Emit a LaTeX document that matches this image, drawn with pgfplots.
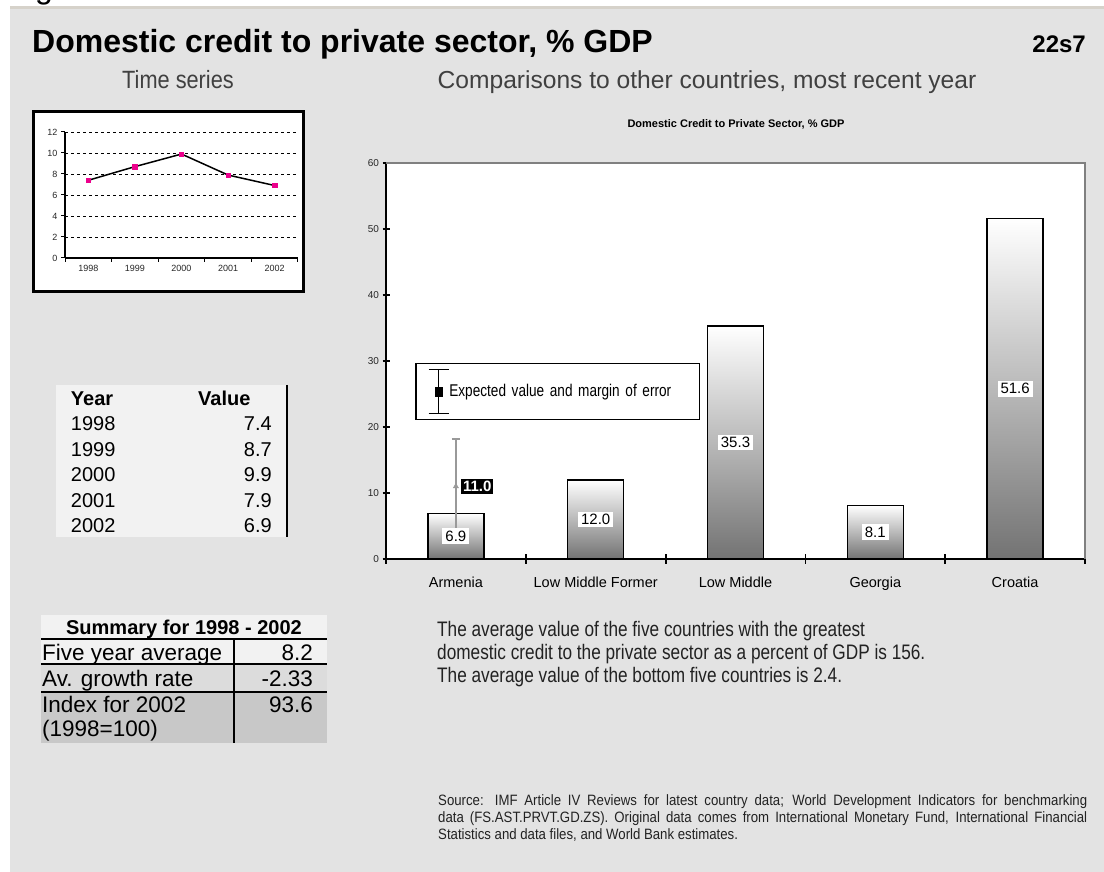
\documentclass[border=0pt]{standalone}
\usepackage{pgfplots}
\pgfplotsset{compat=1.18}
\usepackage{pgfplotstable}
\usepackage{fontspec}
\setmainfont{Liberation Sans}
\newfontfamily\nA[FakeStretch=0.87]{Liberation Sans}
\newfontfamily\nB[FakeStretch=0.82]{Liberation Sans}
\newfontfamily\nC[FakeStretch=0.80]{Liberation Sans}
\newfontfamily\nD[FakeStretch=0.88]{Liberation Sans}
\definecolor{panel}{HTML}{E3E3E3}
\definecolor{topline}{HTML}{D6D2CA}
\definecolor{light}{HTML}{F2F2F2}
\definecolor{mid}{HTML}{DCDCDC}
\definecolor{dark}{HTML}{C8C8C8}
\definecolor{txt}{HTML}{404040}
\definecolor{body}{HTML}{222222}
\newcommand{\fs}[1]{\fontsize{#1}{#1}\selectfont}

\pgfplotstableread{
x year v
0 1998 7.4
1 1999 8.7
2 2000 9.9
3 2001 7.9
4 2002 6.9
}\ts
\pgfplotstableread{
x v
0 6.9
1 12.0
2 35.3
3 8.1
4 51.6
}\bars

\begin{document}
\begin{tikzpicture}[x=1pt,y=1pt]
\fill[white] (0,0) rectangle (1104,872);
\fill[panel] (10,0) rectangle (1104,864.5);
\draw[topline, line width=2.5pt] (10,864.5) -- (1104,864.5);
\begin{scope}
\clip (0,864) rectangle (120,872);
\node[anchor=base west, inner sep=0pt, font=\fs{32}] at (35,873) {g};
\end{scope}
% titles
\node[anchor=base west, inner sep=0pt, font=\fs{32}\bfseries] at (32,819) {Domestic credit to private sector, \% GDP};
\node[anchor=base east, inner sep=0pt, font=\fs{24}\bfseries] at (1086,819) {22s7};
\node[anchor=base, inner sep=0pt, font=\nA\fs{25}, text=txt] at (178,783) {Time series};
\node[anchor=base, inner sep=0pt, font=\fs{24.6}, text=txt] at (707,783) {Comparisons to other countries, most recent year};

% small time-series chart
\draw[black, line width=3pt, fill=white] (33,760) rectangle (303,580);
\begin{axis}[at={(65pt,614pt)}, anchor=south west, scale only axis, width=233pt, height=126pt,
 xmin=-0.5, xmax=4.5, ymin=0, ymax=12, ytick={0,2,...,12},
 xtick={0,...,4}, xticklabels={1998,1999,2000,2001,2002},
 minor xtick={-0.5,0.5,...,4.5},
 axis x line*=bottom, axis y line*=left, axis line style={line width=1.2pt, -},
 ymajorgrids, grid style={black, dashed, line width=0.6pt},
 tick align=outside, major tick length=4pt, minor tick length=4pt,
 major x tick style={draw=none}, minor x tick style={black, line width=1pt},
 ytick style={black, line width=1pt},
 tick label style={font=\fs{9}, text=black!85},
 /pgf/number format/assume math mode=true,
 clip=false]
\addplot[black, line width=1.5pt, mark=square*, mark size=2.2pt, mark options={draw=magenta, fill=magenta, line width=0.5pt}] table[x=x, y=v] {\ts};
\end{axis}

% year table
\fill[light] (56,487) rectangle (287,335);
\draw[black, line width=2pt] (287,487) -- (287,335);
\node[anchor=base west, inner sep=0pt, font=\fs{20}\bfseries] at (70.7,466) {Year};
\node[anchor=base west, inner sep=0pt, font=\fs{20}\bfseries] at (198,466) {Value};
\foreach \yr/\val/\yy in {1998/7.4/441, 1999/8.7/415.5, 2000/9.9/390, 2001/7.9/364.5, 2002/6.9/339}{
  \node[anchor=base west, inner sep=0pt, font=\fs{20}] at (70.7,\yy) {\yr};
  \node[anchor=base east, inner sep=0pt, font=\fs{20}] at (272,\yy) {\val};
}

% summary table
\fill[light] (41,257) rectangle (327,208);
\fill[mid] (41,208) rectangle (327,180);
\fill[dark] (41,180) rectangle (327,129);
\draw[black, line width=2pt] (41,233) -- (327,233) (41,208) -- (327,208) (41,180) -- (327,180) (234,233) -- (234,129);
\node[anchor=base, inner sep=0pt, font=\fs{20}\bfseries] at (184,237) {Summary for 1998 - 2002};
\node[anchor=base west, inner sep=0pt, font=\fs{22.5}] at (42,211) {Five year average};
\node[anchor=base west, inner sep=0pt, font=\fs{22.5}] at (42,185) {Av. growth rate};
\node[anchor=base west, inner sep=0pt, font=\fs{22.5}] at (42,159) {Index for 2002};
\node[anchor=base west, inner sep=0pt, font=\fs{22.5}] at (42,135) {(1998=100)};
\node[anchor=base east, inner sep=0pt, font=\fs{22.5}] at (313,211) {8.2};
\node[anchor=base east, inner sep=0pt, font=\fs{22.5}] at (313,185) {-2.33};
\node[anchor=base east, inner sep=0pt, font=\fs{22.5}] at (313,159) {93.6};

% bar chart
\node[font=\fs{11}\bfseries] at (736,748) {Domestic Credit to Private Sector, \% GDP};
\begin{axis}[at={(386pt,313pt)}, anchor=south west, scale only axis, width=699pt, height=396pt,
 xmin=-0.5, xmax=4.5, ymin=0, ymax=60, ytick={0,10,...,60},
 xtick={0,...,4}, xticklabels={Armenia, Low Middle Former, Low Middle, Georgia, Croatia},
 minor xtick={-0.5,0.5,...,4.5},
 axis background/.style={fill=white},
 axis x line*=bottom, axis y line*=left, axis line style={line width=2.2pt, -},
 tick align=center, major tick length=7pt, minor tick length=10pt,
 major x tick style={draw=none}, minor x tick style={black, line width=1.8pt},
 ytick style={black, line width=1.8pt},
 yticklabel style={font=\fs{10}, text=black!85},
 xticklabel style={font=\fs{14.5}, yshift=-11pt},
 /pgf/number format/assume math mode=true,
 legend style={at={(0.0415,0.495)}, anchor=north west, draw=black, line width=1.5pt, fill=white,
   inner xsep=12pt, inner ysep=5pt, font=\nC\fs{17}, cells={anchor=west},
   nodes={inner sep=0pt, text width=238pt, align=left}},
 extra description/.code={\draw[black!50, line width=1.5pt] (rel axis cs:0,1) -- (rel axis cs:1,1) -- (rel axis cs:1,0);},
 clip=false]
\pgfplotsinvokeforeach{0,...,4}{
\addplot[ybar, bar shift=0pt, bar width=56pt, draw=black, line width=1.5pt, top color=white, bottom color=black!55, forget plot]
  table[x=x, y=v, restrict expr to domain={\coordindex}{#1:#1}] {\bars};
}
\addplot[draw=none, mark=triangle*, mark size=3pt, mark options={draw=black!40, fill=black!40},
  point meta=y,
  nodes near coords={\pgfmathprintnumber[fixed,fixed zerofill,precision=1]{\pgfplotspointmeta}},
  every node near coord/.append style={anchor=west, xshift=5pt, fill=black, text=white, inner sep=2pt, font=\fs{15}\bfseries},
  legend image code/.code={
    \draw[black, line width=1.6pt] (10pt,-22pt) -- (10pt,22pt);
    \draw[black, line width=1.6pt] (0pt,-22pt) -- (20pt,-22pt);
    \draw[black, line width=1.6pt] (0pt,22pt) -- (20pt,22pt);
    \fill[black] (6pt,-5pt) rectangle (14pt,5pt);
  },
  error bars/.cd, y dir=both, y explicit,
  error bar style={line width=2pt, black!40},
  error mark options={rotate=90, mark size=4pt, line width=2pt, black!40}]
  coordinates {(0,11.0) +- (0,7.2)};
\addlegendentry{Expected value and margin of error}
\addplot[draw=none, mark=none, forget plot, point meta=explicit,
  nodes near coords={\pgfmathprintnumber[fixed,fixed zerofill,precision=1]{\pgfplotspointmeta}},
  every node near coord/.append style={anchor=center, fill=white, inner xsep=3pt, inner ysep=2.5pt, font=\fs{15}, text=black}]
  table[x=x, y expr=\thisrow{v}/2, meta=v] {\bars};
\end{axis}

% commentary
\node[anchor=base west, inner sep=0pt, font=\nB\fs{21}, text=body] at (437,235) {The average value of the five countries with the greatest};
\node[anchor=base west, inner sep=0pt, font=\nB\fs{21}, text=body] at (437,212) {domestic credit to the private sector as a percent of GDP is 156.};
\node[anchor=base west, inner sep=0pt, font=\nB\fs{21}, text=body] at (437,189) {The average value of the bottom five countries is 2.4.};

% source
\node[anchor=base west, inner sep=0pt, font=\nD\fs{15}, text=body] at (438,66) {\makebox[649pt][s]{Source: IMF Article IV Reviews for latest country data; World Development Indicators for benchmarking}};
\node[anchor=base west, inner sep=0pt, font=\nD\fs{15}, text=body] at (438,49) {\makebox[649pt][s]{data (FS.AST.PRVT.GD.ZS). Original data comes from International Monetary Fund, International Financial}};
\node[anchor=base west, inner sep=0pt, font=\nD\fs{15}, text=body] at (438,32) {Statistics and data files, and World Bank estimates.};

\pgfresetboundingbox
\path[use as bounding box] (0,0) rectangle (1104,872);
\end{tikzpicture}
\end{document}
